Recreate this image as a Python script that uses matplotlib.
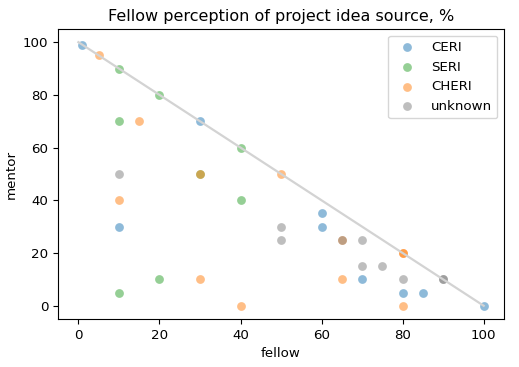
#!/usr/bin/env python3

import matplotlib
matplotlib.use('Agg')
import matplotlib.pyplot as plt

plt.rcParams['font.size'] = 9.6

# (fellow %, mentor %) per respondent, by programme
ceri_fellow = [1, 30, 10, 60, 60, 70, 80, 85, 100]
ceri_mentor = [99, 70, 30, 35, 30, 10, 5, 5, 0]

seri_fellow = [10, 20, 40, 10, 40, 20, 10, 30]
seri_mentor = [90, 80, 60, 70, 40, 10, 5, 50]

cheri_fellow = [5, 15, 10, 30, 40, 50, 65, 80, 80, 80, 30, 65]
cheri_mentor = [95, 70, 40, 10, 0, 50, 10, 20, 20, 0, 50, 25]

unknown_fellow = [10, 50, 50, 65, 70, 70, 75, 80, 90, 90]
unknown_mentor = [50, 30, 25, 25, 25, 15, 15, 10, 10, 10]

groups = [
  ('CERI', ceri_fellow, ceri_mentor, 'tab:blue'),
  ('SERI', seri_fellow, seri_mentor, 'tab:green'),
  ('CHERI', cheri_fellow, cheri_mentor, 'tab:orange'),
  ('unknown', unknown_fellow, unknown_mentor, 'tab:gray'),
]

fig = plt.figure(figsize=(5.19, 3.67), dpi=100)
ax = fig.add_axes([0.112, 0.131, 0.859, 0.79])

for name, xs, ys, c in groups:
  ax.scatter(xs, ys, color=c, alpha=0.5, label=name, s=40, linewidths=0)

ax.plot([0, 100], [100, 0], color='lightgrey', lw=1.6, zorder=1)

ax.set_xlabel('fellow')
ax.set_ylabel('mentor')
ax.set_title('Fellow perception of project idea source, %')
ax.legend(loc='upper right')

fig.savefig('out.png', dpi=100)
